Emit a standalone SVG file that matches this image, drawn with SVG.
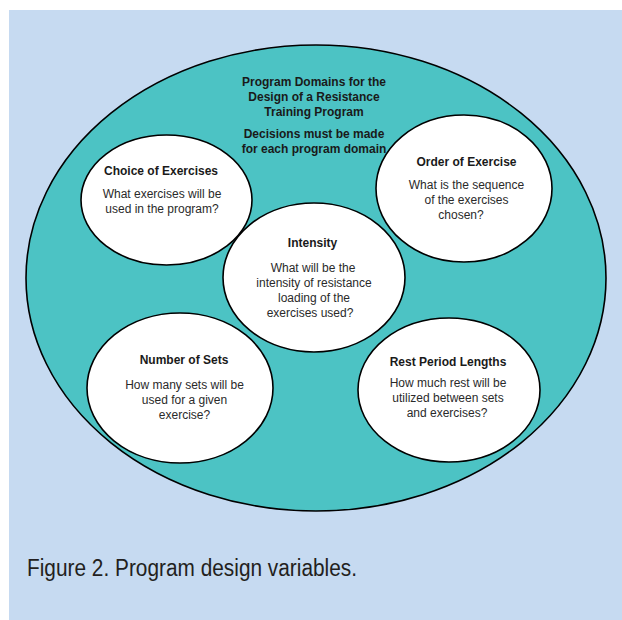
<svg xmlns="http://www.w3.org/2000/svg" width="622" height="620" viewBox="0 0 622 620">
<style>
.node{fill:#ffffff;stroke:#000000;stroke-width:1.6}
.h{font-family:"Liberation Sans",Arial,sans-serif;font-size:12px;font-weight:bold;fill:#1a1a1a;text-anchor:middle}
.b{font-family:"Liberation Sans",Arial,sans-serif;font-size:12px;fill:#2a2a2a;text-anchor:middle}
</style>
<rect x="0" y="0" width="622" height="620" fill="#ffffff"/>
<rect x="9" y="10" width="613" height="610" fill="#c6daf1"/>
<g id="domain">
<ellipse cx="316" cy="278" rx="290" ry="233" fill="#4cc3c4" stroke="#000000" stroke-width="1.6"/>
<text class="h" x="314" y="86">Program Domains for the</text>
<text class="h" x="314" y="101">Design of a Resistance</text>
<text class="h" x="314" y="116">Training Program</text>
<text class="h" x="314" y="138">Decisions must be made</text>
<text class="h" x="314" y="153">for each program domain</text>
</g>
<g id="connectors"></g>
<g id="choice">
<ellipse class="node" cx="166.5" cy="200" rx="85.5" ry="65"/>
<text class="h" x="161" y="175">Choice of Exercises</text>
<text class="b" x="162" y="198">What exercises will be</text>
<text class="b" x="162" y="213">used in the program?</text>
</g>
<g id="order">
<ellipse class="node" cx="464" cy="188.5" rx="88" ry="73.5"/>
<text class="h" x="466.5" y="166">Order of Exercise</text>
<text class="b" x="466.5" y="189">What is the sequence</text>
<text class="b" x="466.5" y="204">of the exercises</text>
<text class="b" x="461" y="219">chosen?</text>
</g>
<g id="intensity">
<ellipse class="node" cx="314" cy="277.5" rx="91" ry="74.5"/>
<text class="h" x="312.5" y="247">Intensity</text>
<text class="b" x="313" y="272">What will be the</text>
<text class="b" x="314" y="287">intensity of resistance</text>
<text class="b" x="314" y="302">loading of the</text>
<text class="b" x="310" y="317">exercises used?</text>
</g>
<g id="sets">
<ellipse class="node" cx="180" cy="388" rx="93" ry="75"/>
<text class="h" x="184" y="364">Number of Sets</text>
<text class="b" x="184.5" y="389">How many sets will be</text>
<text class="b" x="184.5" y="404">used for a given</text>
<text class="b" x="184.5" y="419">exercise?</text>
</g>
<g id="rest">
<ellipse class="node" cx="449" cy="390" rx="91" ry="72"/>
<text class="h" x="448" y="366">Rest Period Lengths</text>
<text class="b" x="448" y="387">How much rest will be</text>
<text class="b" x="448" y="402">utilized between sets</text>
<text class="b" x="447" y="417">and exercises?</text>
</g>
<text x="27" y="576" font-family="'Liberation Sans',Arial,sans-serif" font-size="23" fill="#231f20" textLength="330" lengthAdjust="spacingAndGlyphs">Figure 2. Program design variables.</text>
</svg>
